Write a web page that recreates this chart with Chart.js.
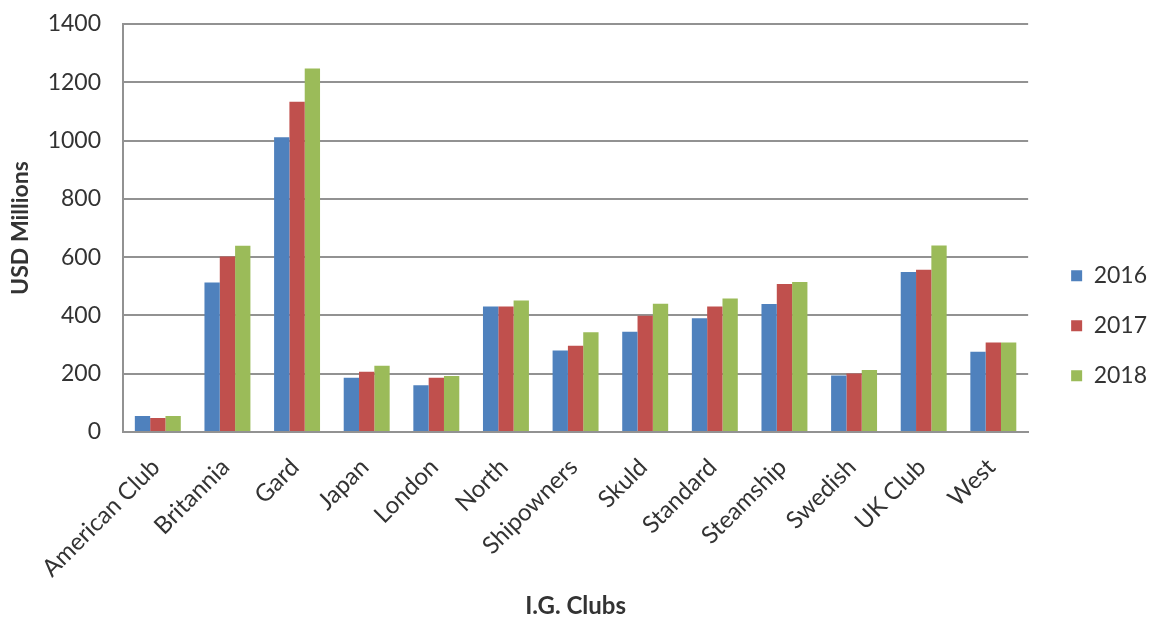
<!DOCTYPE html>
<html>
<head>
<meta charset="utf-8">
<script src="https://cdn.jsdelivr.net/npm/chart.js@4.4.1/dist/chart.umd.min.js"></script>
<style>
  html, body { margin: 0; padding: 0; background: #ffffff; }
  #wrap { width: 1157px; height: 618px; position: relative; }
</style>
</head>
<body>
<div id="wrap"><canvas id="c" width="1157" height="618"></canvas></div>
<script>
const categories = ["American Club", "Britannia", "Gard", "Japan", "London", "North", "Shipowners", "Skuld", "Standard", "Steamship", "Swedish", "UK Club", "West"];
const values2016 = [55, 513, 1011, 186, 160, 431, 280, 344, 390, 439, 194, 549, 275];
const values2017 = [48, 602, 1133, 207, 186, 431, 296, 399, 431, 508, 201, 557, 307];
const values2018 = [55, 639, 1247, 227, 192, 451, 342, 440, 458, 515, 213, 640, 307];
const seriesLabels = ["2016", "2017", "2018"];
const yTicks = [0, 200, 400, 600, 800, 1000, 1200, 1400];

const FONT = "Lato, 'Open Sans', sans-serif";
const gridColor = "#929292";
const textColor = "#333333";

new Chart(document.getElementById('c'), {
  type: 'bar',
  data: {
    labels: categories,
    datasets: [
      { label: seriesLabels[0], data: values2016, backgroundColor: '#4F81BD', yAxisID: 'y' },
      { label: seriesLabels[1], data: values2017, backgroundColor: '#C0504D', yAxisID: 'y' },
      { label: seriesLabels[2], data: values2018, backgroundColor: '#9BBB59', yAxisID: 'y' }
    ]
  },
  options: {
    responsive: false,
    animation: false,
    events: [],
    layout: { padding: { top: 24, right: 0, bottom: 0, left: 0 } },
    datasets: { bar: { barPercentage: 1.0, categoryPercentage: 0.66 } },
    scales: {
      x: {
        grid: { display: false, drawTicks: false },
        border: { display: true, color: gridColor, width: 2 },
        ticks: {
          color: textColor, font: { family: FONT, size: 24 },
          maxRotation: 45, minRotation: 45, padding: 21, labelOffset: -2, autoSkip: false
        },
        title: {
          display: true, text: 'I.G. Clubs', color: textColor,
          font: { family: FONT, size: 24, weight: 'bold', lineHeight: 1 }, padding: { top: 4, bottom: 0 }
        },
        afterFit: (s) => { s.height = 186; }
      },
      y: {
        min: 0, max: 1400,
        afterBuildTicks: (s) => { s.ticks = yTicks.map(v => ({ value: v })); },
        grid: { color: gridColor, lineWidth: 2, drawTicks: true, tickLength: 18, tickColor: 'rgba(0,0,0,0)' },
        border: { display: true, color: gridColor, width: 2 },
        ticks: { color: textColor, font: { family: FONT, size: 23 }, padding: 4, callback: (v) => String(v) },
        title: {
          display: true, text: 'USD Millions', color: textColor,
          font: { family: FONT, size: 23, weight: 'bold' }, padding: { top: 7, bottom: 0 }
        },
        afterFit: (s) => { s.width = 123; }
      },
      spacer: {
        position: 'right', display: true,
        grid: { display: false, drawTicks: false },
        border: { display: false },
        ticks: { display: false },
        afterFit: (s) => { s.width = 16; }
      }
    },
    plugins: {
      tooltip: { enabled: false },
      legend: {
        position: 'right',
        align: 'center',
        title: { display: true, text: ' ', font: { size: 8 }, padding: 0 },
        labels: {
          color: textColor, font: { family: FONT, size: 23 },
          boxWidth: 11, boxHeight: 11, padding: 27
        }
      }
    }
  }
});
</script>
</body>
</html>
